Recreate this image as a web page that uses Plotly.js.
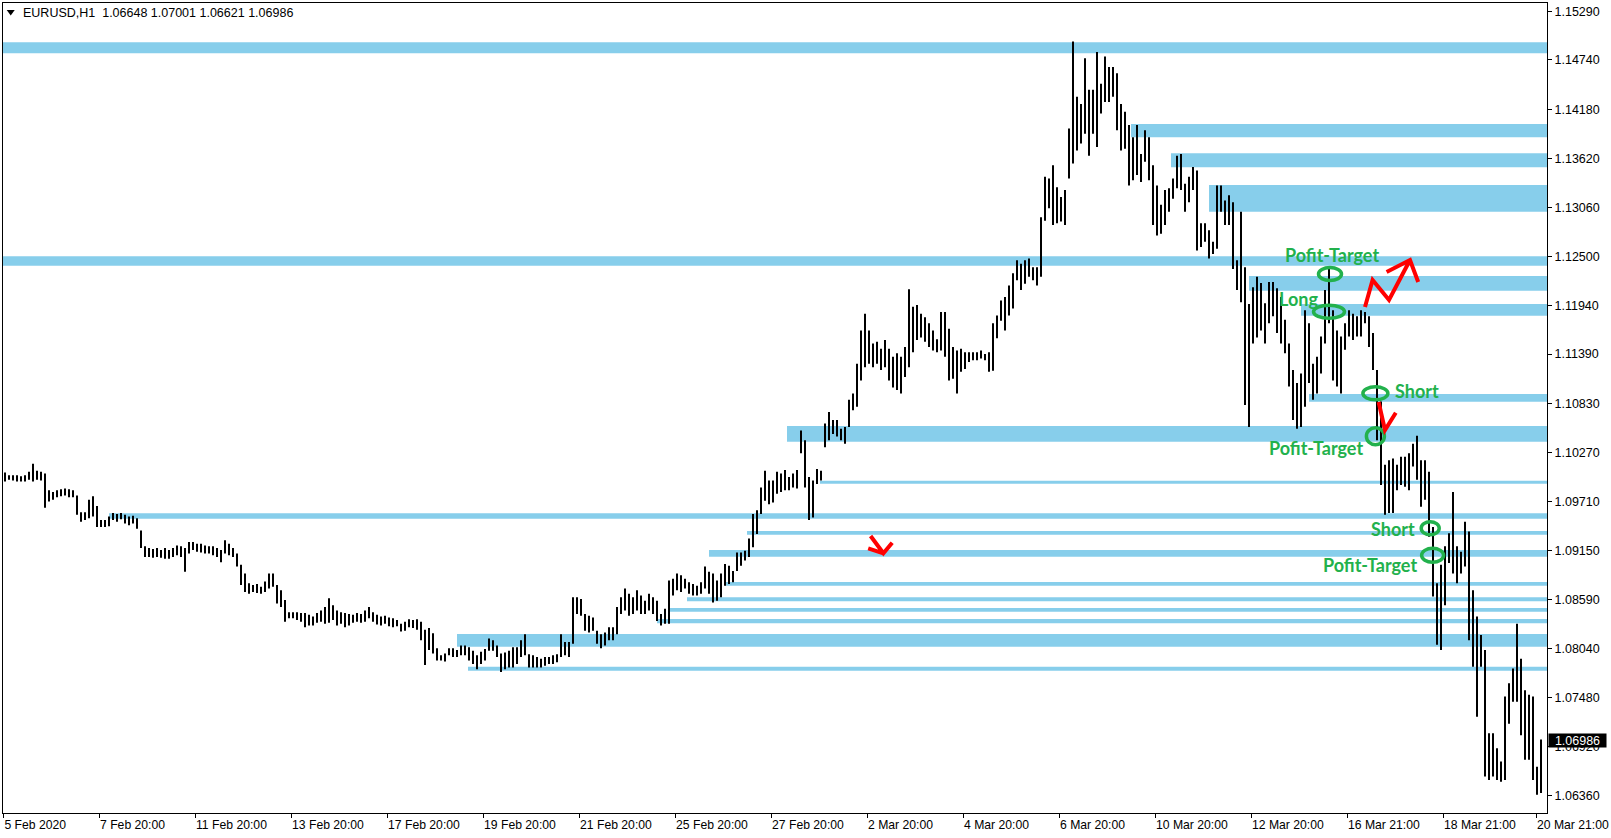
<!DOCTYPE html>
<html><head><meta charset="utf-8">
<script src="https://cdn.plot.ly/plotly-3.0.1.min.js"></script>
<style>html,body{margin:0;padding:0;background:#fff}#chart{width:1611px;height:838px}</style>
</head><body><div id="chart"></div>
<script>
// ---- chart values ----
const symbol = 'EURUSD,H1';
const lastOpen = 1.06648, lastHigh = 1.07001, lastLow = 1.06621, lastClose = 1.06986;

// two-hour bars (low / high)
const barLow = [
1.0994,1.0996,1.0995,1.0994,1.0994,1.0994,1.0996,1.0994,1.0996,1.0995,
1.0964,1.0971,1.0973,1.0976,1.0977,1.0978,1.0976,1.0976,1.0956,1.0948,
1.0950,1.0952,1.0954,1.0942,1.0942,1.0942,1.0943,1.0950,1.0948,1.0951,
1.0946,1.0944,1.0946,1.0940,1.0918,1.0908,1.0908,1.0907,1.0908,1.0907,
1.0906,1.0906,1.0908,1.0910,1.0908,1.0891,1.0912,1.0916,1.0914,1.0913,
1.0912,1.0912,1.0910,1.0908,1.0902,1.0912,1.0910,1.0908,1.0897,1.0876,
1.0868,1.0866,1.0868,1.0867,1.0866,1.0868,1.0872,1.0874,1.0855,1.0851,
1.0834,1.0838,1.0838,1.0836,1.0834,1.0828,1.0830,1.0830,1.0833,1.0834,
1.0832,1.0833,1.0836,1.0830,1.0832,1.0828,1.0830,1.0833,1.0834,1.0833,
1.0834,1.0838,1.0834,1.0831,1.0830,1.0832,1.0829,1.0828,1.0829,1.0823,
1.0824,1.0828,1.0827,1.0825,1.0813,1.0785,1.0802,1.0798,1.0790,1.0790,
1.0789,1.0796,1.0794,1.0794,1.0796,1.0796,1.0790,1.0786,1.0780,1.0786,
1.0790,1.0801,1.0801,1.0794,1.0777,1.0780,1.0782,1.0782,1.0786,1.0794,
1.0796,1.0782,1.0782,1.0782,1.0782,1.0784,1.0786,1.0786,1.0788,1.0794,
1.0796,1.0794,1.0809,1.0843,1.0841,1.0824,1.0822,1.0824,1.0809,1.0804,
1.0807,1.0813,1.0813,1.0820,1.0843,1.0847,1.0841,1.0843,1.0847,1.0843,
1.0843,1.0847,1.0843,1.0835,1.0830,1.0832,1.0832,1.0864,1.0870,1.0868,
1.0872,1.0866,1.0864,1.0864,1.0866,1.0872,1.0866,1.0856,1.0858,1.0862,
1.0875,1.0877,1.0879,1.0892,1.0898,1.0904,1.0908,1.0919,1.0934,1.0957,
1.0972,1.0968,1.0970,1.0980,1.0982,1.0984,1.0984,1.0987,1.0986,1.1026,
1.0987,1.0950,1.0953,1.0991,1.0995,1.1033,1.1041,1.1048,1.1045,1.1041,
1.1037,1.1056,1.1075,1.1079,1.1109,1.1124,1.1128,1.1124,1.1128,1.1121,
1.1124,1.1109,1.1101,1.1098,1.1094,1.1113,1.1124,1.1141,1.1155,1.1158,
1.1153,1.1147,1.1143,1.1141,1.1143,1.1136,1.1109,1.1111,1.1094,1.1119,
1.1122,1.1130,1.1132,1.1132,1.1134,1.1132,1.1119,1.1120,1.1157,1.1177,
1.1166,1.1183,1.1191,1.1223,1.1212,1.1219,1.1227,1.1223,1.1217,1.1227,
1.1291,1.1305,1.1286,1.1288,1.1290,1.1286,1.1339,1.1356,1.1371,1.1379,
1.1390,1.1365,1.1390,1.1375,1.1413,1.1426,1.1426,1.1432,1.1394,1.1371,
1.1373,1.1331,1.1337,1.1343,1.1335,1.1358,1.1337,1.1286,1.1274,1.1276,
1.1286,1.1301,1.1316,1.1328,1.1326,1.1301,1.1312,1.1326,1.1257,1.1261,
1.1267,1.1248,1.1253,1.1259,1.1301,1.1286,1.1286,1.1236,1.1212,1.1198,
1.1081,1.1056,1.1151,1.1158,1.1166,1.1151,1.1174,1.1182,1.1163,1.1151,
1.1140,1.1102,1.1064,1.1054,1.1056,1.1079,1.1106,1.1087,1.1094,1.1117,
1.1151,1.1174,1.1109,1.1102,1.1094,1.1144,1.1159,1.1155,1.1159,1.1159,
1.1174,1.1147,1.1121,1.1041,1.0990,1.0956,1.0958,1.0958,1.0984,1.0990,
1.0988,1.0984,1.1011,1.0996,1.0965,1.0973,1.0931,1.0863,1.0808,1.0802,
1.0853,1.0901,1.0889,1.0878,1.0889,1.0897,1.0813,1.0783,1.0726,1.0783,
1.0658,1.0654,1.0658,1.0654,1.0652,1.0654,1.0718,1.0743,1.0743,1.0705,
1.0677,1.0677,1.0654,1.0637,1.0639
];
const barHigh = [
1.1004,1.1001,1.1001,1.1001,1.1000,1.1001,1.1005,1.1014,1.1006,1.1005,
1.1003,1.0984,1.0982,1.0984,1.0985,1.0986,1.0985,1.0984,1.0978,1.0959,
1.0959,1.0973,1.0977,1.0966,1.0950,1.0950,1.0954,1.0958,1.0957,1.0958,
1.0956,1.0954,1.0955,1.0952,1.0938,1.0920,1.0918,1.0917,1.0918,1.0916,
1.0918,1.0916,1.0918,1.0921,1.0920,1.0918,1.0925,1.0925,1.0923,1.0923,
1.0921,1.0920,1.0920,1.0918,1.0916,1.0927,1.0923,1.0918,1.0912,1.0899,
1.0889,1.0878,1.0876,1.0877,1.0874,1.0880,1.0889,1.0889,1.0876,1.0870,
1.0859,1.0845,1.0845,1.0845,1.0844,1.0844,1.0842,1.0840,1.0844,1.0847,
1.0851,1.0861,1.0853,1.0847,1.0845,1.0844,1.0843,1.0842,1.0844,1.0843,
1.0847,1.0851,1.0845,1.0842,1.0840,1.0841,1.0839,1.0838,1.0836,1.0832,
1.0834,1.0837,1.0836,1.0837,1.0834,1.0825,1.0827,1.0821,1.0804,1.0796,
1.0798,1.0804,1.0804,1.0802,1.0807,1.0807,1.0805,1.0801,1.0796,1.0800,
1.0803,1.0815,1.0813,1.0807,1.0798,1.0799,1.0801,1.0805,1.0805,1.0813,
1.0820,1.0797,1.0796,1.0794,1.0792,1.0794,1.0794,1.0796,1.0797,1.0820,
1.0811,1.0811,1.0862,1.0862,1.0860,1.0843,1.0841,1.0839,1.0824,1.0820,
1.0822,1.0828,1.0828,1.0851,1.0862,1.0872,1.0866,1.0862,1.0870,1.0864,
1.0858,1.0866,1.0862,1.0858,1.0843,1.0849,1.0881,1.0883,1.0889,1.0887,
1.0883,1.0879,1.0877,1.0875,1.0879,1.0897,1.0891,1.0889,1.0881,1.0889,
1.0900,1.0898,1.0892,1.0913,1.0913,1.0915,1.0929,1.0957,1.0961,1.0987,
1.1006,1.0995,1.0995,1.1005,1.1003,1.1007,1.0999,1.1003,1.1007,1.1052,
1.1041,1.0999,1.0995,1.1008,1.1006,1.1060,1.1073,1.1064,1.1064,1.1054,
1.1056,1.1087,1.1094,1.1128,1.1166,1.1185,1.1166,1.1151,1.1153,1.1145,
1.1155,1.1145,1.1136,1.1140,1.1136,1.1147,1.1213,1.1193,1.1195,1.1185,
1.1181,1.1174,1.1166,1.1156,1.1187,1.1187,1.1168,1.1147,1.1143,1.1145,
1.1141,1.1141,1.1141,1.1141,1.1143,1.1139,1.1141,1.1174,1.1183,1.1200,
1.1204,1.1217,1.1231,1.1246,1.1242,1.1246,1.1248,1.1238,1.1238,1.1295,
1.1341,1.1339,1.1354,1.1329,1.1318,1.1326,1.1396,1.1495,1.1432,1.1424,
1.1476,1.1440,1.1440,1.1483,1.1447,1.1478,1.1466,1.1466,1.1459,1.1424,
1.1415,1.1400,1.1386,1.1400,1.1367,1.1394,1.1386,1.1354,1.1331,1.1309,
1.1326,1.1328,1.1339,1.1365,1.1367,1.1333,1.1341,1.1352,1.1348,1.1288,
1.1288,1.1280,1.1267,1.1331,1.1331,1.1314,1.1320,1.1312,1.1246,1.1301,
1.1238,1.1196,1.1215,1.1227,1.1220,1.1197,1.1221,1.1221,1.1214,1.1204,
1.1178,1.1151,1.1121,1.1106,1.1117,1.1189,1.1174,1.1128,1.1136,1.1159,
1.1212,1.1237,1.1189,1.1166,1.1159,1.1174,1.1189,1.1185,1.1182,1.1189,
1.1187,1.1182,1.1163,1.1121,1.1085,1.1013,1.1018,1.1020,1.1013,1.1022,
1.1022,1.1026,1.1037,1.1046,1.1018,1.1018,1.1005,1.0942,1.0878,1.0899,
1.0920,1.0935,1.0982,1.0920,1.0914,1.0948,1.0937,1.0870,1.0840,1.0819,
1.0802,1.0707,1.0707,1.0690,1.0675,1.0749,1.0764,1.0781,1.0832,1.0792,
1.0756,1.0751,1.0749,1.0669,1.0700
];

// time axis labels (bar index where each label sits)
const timeTickBars = [-0.4,23.5,47.5,71.5,95.5,119.5,143.5,167.5,191.5,215.5,239.5,263.5,287.5,311.5,335.5,359.5,382.75];
const timeTickText = ['5 Feb 2020','7 Feb 20:00','11 Feb 20:00','13 Feb 20:00','17 Feb 20:00','19 Feb 20:00','21 Feb 20:00','25 Feb 20:00','27 Feb 20:00','2 Mar 20:00','4 Mar 20:00','6 Mar 20:00','10 Mar 20:00','12 Mar 20:00','16 Mar 21:00','18 Mar 21:00','20 Mar 21:00'];
const priceTicks = [1.15290,1.14740,1.14180,1.13620,1.13060,1.12500,1.11940,1.11390,1.10830,1.10270,1.09710,1.09150,1.08590,1.08040,1.07480,1.06920,1.06360];

// support / resistance zones
const zoneLow  = [1.14816,1.13859,1.13518,1.13012,1.12397,1.12112,1.11827,1.10848,1.10392,1.09914,1.09515,1.09333,1.09082,1.08752,1.08575,1.08456,1.08324,1.08057,1.07784];
const zoneHigh = [1.14941,1.14011,1.13677,1.13316,1.12504,1.12280,1.11961,1.10936,1.10571,1.09948,1.09577,1.09375,1.09159,1.08794,1.08620,1.08498,1.08373,1.08202,1.07830];
const zoneFrom = [-0.5,281.5,291.5,301,-0.5,311,324,326,195.5,203.75,26,185.5,176,180,170.5,166,163,113,115.75];

// hand-drawn notes
const noteText  = ['Pofit-Target','Long','Short','Pofit-Target','Short','Pofit-Target'];
const noteBar   = [331.75,323.25,353,327.75,347.1,341.25];
const notePrice = [1.12519,1.12023,1.10964,1.10315,1.09403,1.08988];
const ringBar   = [331.25,331,342.6,342.6,356.3,356.9];
const ringPrice = [1.12302,1.11873,1.10943,1.10454,1.09406,1.09098];

// ---- build ----
const XMAX = 385.5;
const xs = [], ys = [];
barLow.forEach((lo, i) => { xs.push(i, i, null); ys.push(lo, barHigh[i], null); });

const bars = {
  type: 'scatter', mode: 'lines', x: xs, y: ys,
  line: {color: '#000', width: 2}, hoverinfo: 'skip', connectgaps: false
};

const shapes = [];
zoneLow.forEach((lo, i) => shapes.push({
  type: 'rect', xref: 'x', yref: 'y', x0: zoneFrom[i], x1: XMAX, y0: lo, y1: zoneHigh[i],
  fillcolor: '#87CEEB', line: {width: 0}, layer: 'below'
}));

const ringRx = [11.5,15.5,12.5,9,9,11];
const ringRy = [6.5,6.5,6.5,8.5,6.5,7];
ringBar.forEach((k, i) => shapes.push({
  type: 'circle', xref: 'x', yref: 'y', xsizemode: 'pixel', ysizemode: 'pixel',
  xanchor: k, yanchor: ringPrice[i], x0: -ringRx[i], x1: ringRx[i], y0: -ringRy[i], y1: ringRy[i],
  line: {color: '#22B14C', width: 3.5}, fillcolor: 'rgba(0,0,0,0)', layer: 'above'
}));

const red = {color: '#FF0000', width: 4};
shapes.push({type: 'path', xref: 'x', yref: 'y', layer: 'above', line: red,
  path: 'M340,1.11926 L341.9,1.12234 L346,1.12006 L351.25,1.12462 M345.4,1.12325 L351.25,1.12462 L353.3,1.12211'});
shapes.push({type: 'path', xref: 'x', yref: 'y', layer: 'above', line: red,
  path: 'M343.4,1.10844 L345,1.10525 L347.7,1.10722'});
shapes.push({type: 'path', xref: 'x', yref: 'y', layer: 'above', line: red,
  path: 'M216.4,1.09318 L219.6,1.09121 L221.8,1.09242 M215.8,1.09178 L219.6,1.09121'});

// small triangle in the header
shapes.push({type: 'path', xref: 'paper', yref: 'paper', layer: 'above',
  path: 'M0.0024,0.9914 L0.0076,0.9914 L0.005,0.9846 Z', fillcolor: '#000', line: {width: 0}});

const annotations = [];
noteText.forEach((t, i) => annotations.push({
  x: noteBar[i], y: notePrice[i], xref: 'x', yref: 'y', text: '<b>' + t + '</b>',
  showarrow: false, xanchor: 'center', yanchor: 'middle',
  font: {family: 'Lato, Open Sans, sans-serif', size: 18, color: '#22B14C'}
}));

annotations.push({
  x: 0.0117, y: 0.9877, xref: 'paper', yref: 'paper', xanchor: 'left', yanchor: 'middle',
  showarrow: false,
  text: symbol + '\u00a0\u00a0' + [lastOpen, lastHigh, lastLow, lastClose].map(v => v.toFixed(5)).join(' '),
  font: {family: 'Liberation Sans, Arial, sans-serif', size: 12.5, color: '#000'}
});

annotations.push({
  x: 1, y: lastClose, xref: 'paper', yref: 'y', xanchor: 'left', yanchor: 'middle', xshift: 1,
  showarrow: false, text: lastClose.toFixed(5), bgcolor: '#000', width: 55, height: 11, borderpad: 1,
  align: 'center', font: {family: 'Liberation Sans, Arial, sans-serif', size: 12.5, color: '#fff'}
});

const axisFont = {family: 'Liberation Sans, Arial, sans-serif', size: 12.5, color: '#000'};
const xFont = {family: 'Liberation Sans, Arial, sans-serif', size: 12.2, color: '#000'};
const layout = {
  width: 1611, height: 838,
  margin: {l: 3, r: 64, t: 3, b: 25},
  paper_bgcolor: '#fff', plot_bgcolor: '#fff', showlegend: false,
  font: axisFont,
  xaxis: {
    range: [-0.5, XMAX], tickmode: 'array', tickvals: timeTickBars, ticktext: timeTickText,
    ticks: 'outside', ticklen: 4, tickcolor: '#000', tickwidth: 1, tickfont: xFont,
    ticklabelposition: 'outside right', ticklabeloverflow: 'allow',
    showgrid: false, zeroline: false, showline: true, linecolor: '#000', linewidth: 1, mirror: true,
    fixedrange: true
  },
  yaxis: {
    side: 'right', range: [1.06163, 1.15389], tickmode: 'array', tickvals: priceTicks,
    ticktext: priceTicks.map(v => v.toFixed(5)), ticklabeloverflow: 'allow',
    ticks: 'outside', ticklen: 4, tickcolor: '#000', tickwidth: 1, tickfont: axisFont,
    showgrid: false, zeroline: false, showline: true, linecolor: '#000', linewidth: 1, mirror: true,
    fixedrange: true
  },
  shapes: shapes, annotations: annotations
};

Plotly.newPlot('chart', [bars], layout, {displayModeBar: false, staticPlot: true});
</script>
</body></html>
